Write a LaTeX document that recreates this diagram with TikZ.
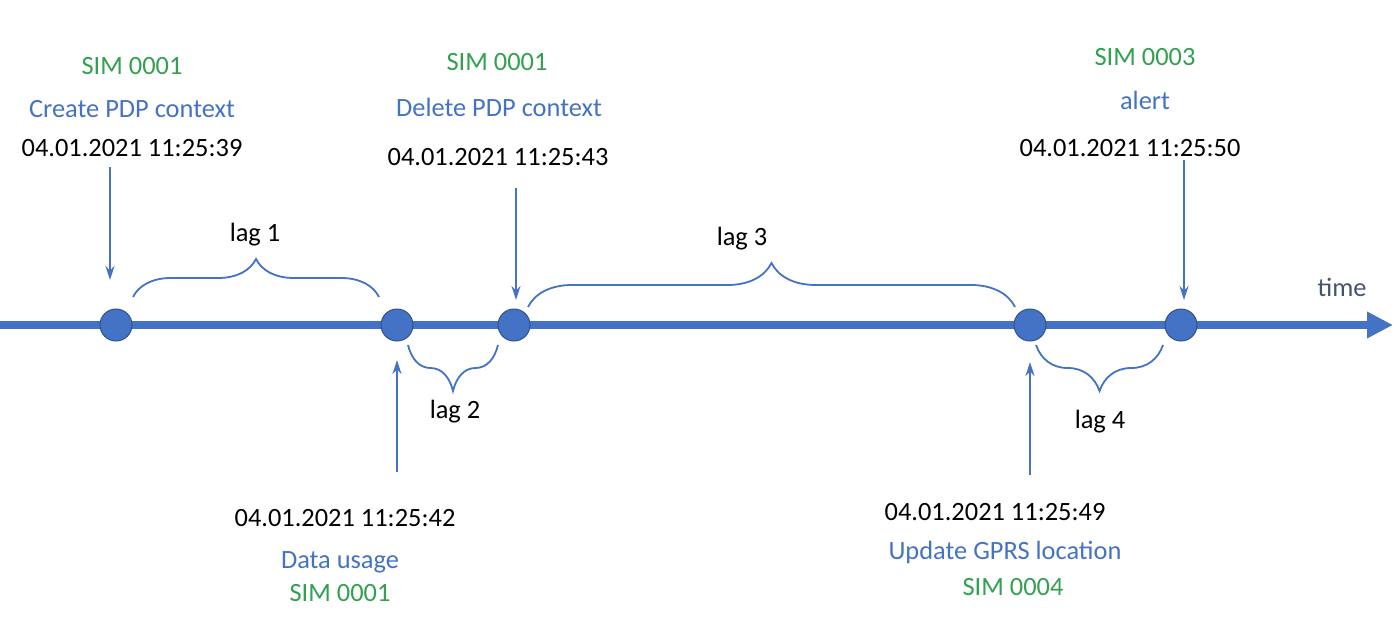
\documentclass[tikz,border=0pt]{standalone}
\usepackage{fontspec}
\setmainfont{Carlito}
\usepackage{xcolor}
\usetikzlibrary{arrows.meta, decorations.pathreplacing}
\definecolor{evblue}{HTML}{4472C4}
\definecolor{evedge}{HTML}{2F528F}
\definecolor{simgreen}{HTML}{33A04F}
\definecolor{timegray}{HTML}{44546A}
\tikzset{
event/.style={circle, fill=evblue, draw=evedge, line width=0.5pt, minimum size=16pt, inner sep=0pt},
txt/.style={font=\fontsize{13.2}{16}\selectfont, text height=0.8em, text depth=0pt, inner sep=0pt},
simTxt/.style={txt, text=simgreen},
kindTxt/.style={txt, text=evblue},
pointer/.style={draw=evblue, line width=0.8pt, -{Stealth[length=7pt,width=4.5pt]}},
lagBrace/.style={draw=evblue, line width=0.9pt, decorate, decoration={brace, amplitude=#1}},
lagBrace/.default=21pt,
}

\begin{document}
\begin{tikzpicture}[x=0.5pt, y=-0.5pt]
    \useasboundingbox (0,0) rectangle (1400,642);

    % time axis
    \coordinate (t_0) at (0,325);
    \coordinate (t_1) at (1393,325);
    \draw[evblue, line width=3.6pt, -{Triangle[length=13pt,width=12.5pt]}] (t_0) -- (t_1);
    \node[txt, text=timegray] (time) at (1342,288) {time};

    % events on the axis
    \node[event] (e_1) at (116,325) {};
    \node[event] (e_2) at (397,325) {};
    \node[event] (e_3) at (514,325) {};
    \node[event] (e_4) at (1030,325) {};
    \node[event] (e_5) at (1181,325) {};

    % labels above
    \node[simTxt] (s_1) at (132,67) {SIM 0001};
    \node[kindTxt] (k_1) at (132,110) {Create PDP context};
    \node[txt] (d_1) at (132,148) {04.01.2021 11:25:39};
    \node[simTxt] (s_3) at (497,62) {SIM 0001};
    \node[kindTxt] (k_3) at (499,109) {Delete PDP context};
    \node[txt] (d_3) at (498,157) {04.01.2021 11:25:43};
    \node[simTxt] (s_5) at (1145,58) {SIM 0003};
    \node[kindTxt] (k_5) at (1145,102) {alert};
    \node[txt] (d_5) at (1130,148) {04.01.2021 11:25:50};

    % labels below
    \node[txt] (d_2) at (345,518) {04.01.2021 11:25:42};
    \node[kindTxt] (k_2) at (340,560) {Data usage};
    \node[simTxt] (s_2) at (340,593) {SIM 0001};
    \node[txt] (d_4) at (995,512) {04.01.2021 11:25:49};
    \node[kindTxt] (k_4) at (1005,551) {Update GPRS location};
    \node[simTxt] (s_4) at (1013,587) {SIM 0004};

    % pointers
    \coordinate (a_1) at (110,167);  \coordinate (b_1) at (110,280);
    \coordinate (a_2) at (397,472);  \coordinate (b_2) at (397,360);
    \coordinate (a_3) at (516,188);  \coordinate (b_3) at (516,300);
    \coordinate (a_4) at (1030,475); \coordinate (b_4) at (1030,362);
    \coordinate (a_5) at (1184,160); \coordinate (b_5) at (1184,300);
    \foreach \i in {1,...,5}
        \draw[pointer] (a_\i) -- (b_\i);

    % lags
    \coordinate (l_1) at (133,297);  \coordinate (r_1) at (379,297);
    \coordinate (l_2) at (408,345);  \coordinate (r_2) at (498,345);
    \coordinate (l_3) at (528,307);  \coordinate (r_3) at (1015,307);
    \coordinate (l_4) at (1036,345); \coordinate (r_4) at (1163,345);
    \draw[lagBrace=19pt] (l_1) -- (r_1);
    \draw[lagBrace=23pt, decoration={mirror}] (l_2) -- (r_2);
    \draw[lagBrace=22pt] (l_3) -- (r_3);
    \draw[lagBrace=23pt, decoration={mirror}] (l_4) -- (r_4);
    \node[txt] (lag_1) at (255,233) {lag 1};
    \node[txt] (lag_2) at (455,410) {lag 2};
    \node[txt] (lag_3) at (742,237) {lag 3};
    \node[txt] (lag_4) at (1100,420) {lag 4};
\end{tikzpicture}
\end{document}
